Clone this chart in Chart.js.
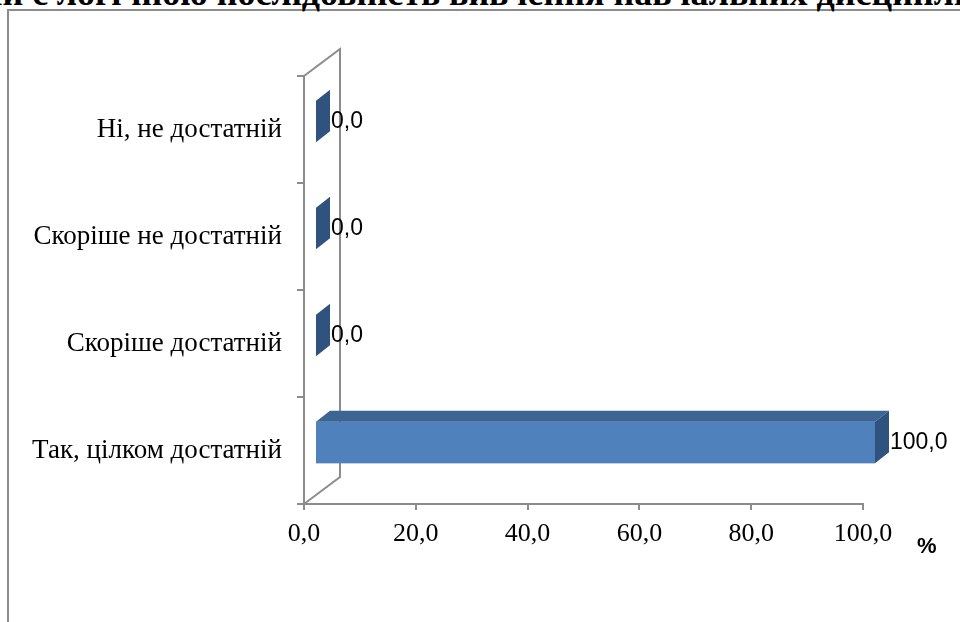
<!DOCTYPE html>
<html>
<head>
<meta charset="utf-8">
<script src="https://cdn.jsdelivr.net/npm/chart.js@4/dist/chart.umd.min.js"></script>
<style>
  html, body { margin: 0; padding: 0; background: #fff; }
  body { width: 960px; height: 622px; position: relative; overflow: hidden; }
  #frame { position: absolute; left: 7px; top: 9px; width: 1000px; height: 700px; border: 2px solid #8c8c8c; box-sizing: border-box; }
  #title { position: absolute; left: -24px; top: -25px; white-space: nowrap; font: bold 36px 'Liberation Serif'; line-height: 36px; color: #000; }
  #chart { position: absolute; left: 0; top: 0; }
</style>
</head>
<body>
<div id="frame"></div>
<div id="title"></div>
<canvas id="chart" width="960" height="622"></canvas>
<script>
const titleText = 'Чи є логічною послідовність вивчення навчальних дисциплін?';
const categories = ['Ні, не достатній', 'Скоріше не достатній', 'Скоріше достатній', 'Так, цілком достатній'];
const values = [0.0, 0.0, 0.0, 100.0];
const xTicks = [0, 20, 40, 60, 80, 100];
const axisUnit = '%';

document.getElementById('title').textContent = titleText;

const fmt = v => Number(v).toFixed(1).replace('.', ',');
const gray = '#8c8c8c';

// fake 3d: back wall + floor edges, then the bars as boxes
const bars3d = {
  id: 'bars3d',
  beforeDatasetsDraw(chart) {
    const { ctx, chartArea: a } = chart;
    ctx.save();
    ctx.strokeStyle = gray;
    ctx.lineWidth = 2;
    ctx.beginPath();
    ctx.moveTo(a.left, a.top);
    ctx.lineTo(a.left + 36, a.top - 27);
    ctx.lineTo(a.left + 36, a.bottom - 27);
    ctx.lineTo(a.left, a.bottom);
    ctx.stroke();
    ctx.restore();
  },
  afterDatasetsDraw(chart) {
    const ctx = chart.ctx;
    const meta = chart.getDatasetMeta(0);
    const dx = 14, dy = -11;
    ctx.save();
    meta.data.forEach((bar, i) => {
      const p = bar.getProps(['x', 'y', 'base', 'height'], true);
      const x0 = p.base + 11, x1 = p.x + 12;
      const y0 = p.y - 8 - p.height / 2, y1 = y0 + p.height;
      if (x1 - x0 > 1.5) {
        ctx.fillStyle = '#4f81bd';
        ctx.fillRect(x0, y0, x1 - x0, y1 - y0);
        ctx.fillStyle = '#3d6593';
        ctx.beginPath();
        ctx.moveTo(x0, y0); ctx.lineTo(x1, y0);
        ctx.lineTo(x1 + dx, y0 + dy); ctx.lineTo(x0 + dx, y0 + dy);
        ctx.closePath(); ctx.fill();
      }
      ctx.fillStyle = '#30527f';
      ctx.beginPath();
      ctx.moveTo(x1, y0); ctx.lineTo(x1 + dx, y0 + dy);
      ctx.lineTo(x1 + dx, y1 + dy); ctx.lineTo(x1, y1);
      ctx.closePath(); ctx.fill();

      ctx.fillStyle = '#000';
      ctx.font = '23px "Liberation Sans"';
      ctx.textAlign = 'left';
      ctx.textBaseline = 'middle';
      ctx.fillText(fmt(values[i]), x1 + dx + 1, p.y - 8);
    });
    // unit label right of the value axis
    const xs = chart.scales.x;
    ctx.font = 'bold 22px "Liberation Sans"';
    ctx.textAlign = 'left';
    ctx.textBaseline = 'middle';
    ctx.fillText(axisUnit, xs.right + 54, xs.top + 43);
    ctx.restore();
  }
};

new Chart(document.getElementById('chart'), {
  type: 'bar',
  data: {
    labels: categories,
    datasets: [{
      data: values,
      backgroundColor: 'rgba(0,0,0,0)',
      borderWidth: 0,
      barPercentage: 0.39,
      categoryPercentage: 1
    }]
  },
  options: {
    indexAxis: 'y',
    responsive: false,
    animation: false,
    layout: { padding: { top: 76, right: 97, bottom: 0, left: 0 } },
    plugins: { legend: { display: false }, tooltip: { enabled: false } },
    scales: {
      x: {
        min: 0,
        max: 100,
        afterBuildTicks: s => { s.ticks = xTicks.map(v => ({ value: v })); },
        afterFit: s => { s.height = 118; },
        ticks: { callback: v => fmt(v), color: '#000', padding: 9, maxRotation: 0,
                 font: { family: 'Liberation Serif', size: 26 } },
        grid: { drawOnChartArea: false, tickLength: 6, color: gray, lineWidth: 2 },
        border: { color: gray, width: 2 }
      },
      y: {
        afterFit: s => { s.width = 304; },
        ticks: { color: '#000', padding: 15, font: { family: 'Liberation Serif', size: 27 } },
        grid: { offset: true, drawOnChartArea: false, tickLength: 7, color: gray, lineWidth: 2 },
        border: { color: gray, width: 2 }
      }
    }
  },
  plugins: [bars3d]
});
</script>
</body>
</html>
